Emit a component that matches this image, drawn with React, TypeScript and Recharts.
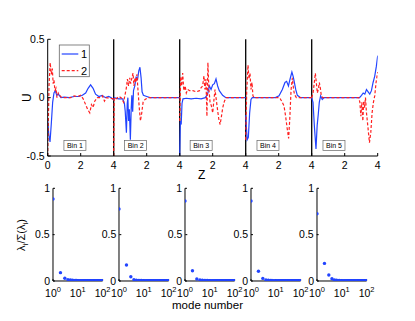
import {
  LineChart,
  Line,
  XAxis,
  YAxis,
  ReferenceLine,
  ReferenceDot,
  ScatterChart,
  Scatter,
} from 'recharts';

const FONT = '"Liberation Sans", Arial, Helvetica, sans-serif';
const BLUE = '#2244ff';
const RED = '#ff2020';

// first two POD modes per bin, [z, U]
const bin1Blue = [
  [0, -0.2], [0.07, -0.32], [0.14, -0.38], [0.22, -0.22], [0.3, -0.04], [0.38, 0.04], [0.46, 0.06],
  [0.55, 0.02], [0.65, 0.03], [0.8, 0.0], [1.0, 0.005], [1.3, 0.0], [1.6, 0.01], [1.9, 0.01],
  [2.1, 0.02], [2.3, 0.04], [2.45, 0.08], [2.6, 0.11], [2.75, 0.08], [2.9, 0.03], [3.1, 0.01],
  [3.3, 0.02], [3.5, 0.0], [3.7, 0.01], [3.85, 0.0], [4.0, -0.02],
];
const bin1Red = [
  [0, -0.5], [0.08, 0.1], [0.15, 0.3], [0.22, 0.2], [0.28, 0.25], [0.33, 0.12], [0.38, 0.15],
  [0.44, 0.06], [0.5, 0.08], [0.56, 0.0], [0.64, 0.04], [0.72, 0.02], [0.85, 0.0], [1.1, 0.0],
  [1.4, 0.0], [1.6, 0.015], [1.8, 0.01], [2.0, 0.02], [2.15, -0.01], [2.3, -0.06], [2.42, -0.1],
  [2.55, -0.13], [2.65, -0.06], [2.75, -0.085], [2.85, -0.03], [3.0, 0.0], [3.2, 0.0],
  [3.32, 0.015], [3.44, -0.03], [3.56, 0.0], [3.8, -0.005], [4.0, -0.01],
];
const bin2Blue = [
  [0, 0.0], [0.3, -0.01], [0.55, -0.01], [0.65, -0.05], [0.7, -0.12], [0.77, -0.3], [0.82, -0.05],
  [0.86, 0.0], [0.9, -0.2], [0.95, -0.1], [1.01, -0.36], [1.06, -0.1], [1.1, 0.02], [1.15, -0.12],
  [1.2, 0.06], [1.28, 0.1], [1.36, 0.18], [1.44, 0.15], [1.52, 0.23], [1.59, 0.26], [1.66, 0.17],
  [1.72, 0.05], [1.8, 0.02], [2.0, 0.01], [2.2, 0.0], [4.0, 0.0],
];
const bin2Red = [
  [0, -0.5], [0.03, 0.0], [0.15, -0.01], [0.3, 0.01], [0.45, 0.0], [0.6, -0.04], [0.68, 0.02],
  [0.77, 0.085], [0.83, 0.16], [0.9, 0.1], [0.97, 0.17], [1.03, 0.12], [1.09, 0.16], [1.17, 0.21],
  [1.23, 0.1], [1.29, 0.17], [1.35, 0.13], [1.41, 0.2], [1.47, 0.07], [1.54, -0.07], [1.62, -0.2],
  [1.7, -0.13], [1.78, -0.04], [1.9, -0.015], [2.08, 0.0], [4.0, 0.0],
];
const bin3Blue = [
  [0, -0.5], [0.04, -0.2], [0.09, -0.23], [0.14, -0.05], [0.2, -0.01], [0.4, -0.005], [0.7, -0.01],
  [1.0, -0.005], [1.3, -0.01], [1.55, 0.0], [1.69, 0.03], [1.8, 0.1], [1.9, 0.07], [2.0, 0.11],
  [2.1, 0.12], [2.2, 0.16], [2.3, 0.1], [2.4, 0.06], [2.6, 0.02], [2.8, 0.0], [4.0, 0.0],
];
const bin3Red = [
  [0, -0.2], [0.06, 0.18], [0.12, 0.1], [0.18, 0.21], [0.25, 0.06], [0.33, 0.1], [0.4, 0.04],
  [0.48, 0.07], [0.6, 0.06], [0.8, 0.06], [1.0, 0.05], [1.2, 0.06], [1.29, 0.085], [1.39, 0.1],
  [1.47, 0.185], [1.53, 0.07], [1.59, 0.16], [1.65, -0.16], [1.71, 0.3], [1.77, 0.07],
  [1.84, -0.04], [1.92, -0.07], [2.0, -0.13], [2.06, -0.04], [2.14, 0.07], [2.2, 0.0],
  [2.29, -0.1], [2.37, -0.185], [2.45, -0.23], [2.53, -0.16], [2.61, -0.085], [2.71, -0.03],
  [2.82, 0.0], [4.0, 0.0],
];
const bin4Blue = [
  [0, -0.15], [0.04, -0.25], [0.09, -0.36], [0.16, -0.34], [0.24, -0.13], [0.32, -0.015],
  [0.4, 0.0], [1.8, 0.0], [2.02, 0.015], [2.22, 0.07], [2.38, 0.13], [2.48, 0.14], [2.59, 0.1],
  [2.69, 0.16], [2.8, 0.22], [2.88, 0.18], [2.95, 0.13], [3.03, 0.07], [3.13, 0.02], [3.33, 0.0],
  [4.0, 0.0],
];
const bin4Red = [
  [0, -0.36], [0.06, 0.05], [0.14, 0.28], [0.2, 0.16], [0.26, 0.21], [0.32, 0.07], [0.38, 0.13],
  [0.44, 0.015], [0.52, 0.0], [2.05, 0.0], [2.18, -0.03], [2.32, -0.07], [2.42, -0.16],
  [2.52, -0.27], [2.6, -0.35], [2.67, -0.185], [2.75, 0.07], [2.83, 0.17], [2.89, 0.085],
  [2.95, 0.03], [3.07, 0.0], [4.0, 0.0],
];
const bin5Blue = [
  [0, 0.0], [0.08, -0.04], [0.16, -0.24], [0.26, -0.44], [0.33, -0.24], [0.4, -0.14], [0.46, -0.04],
  [0.54, 0.015], [0.64, -0.015], [0.75, 0.0], [2.9, 0.0], [3.02, 0.02], [3.12, 0.04], [3.22, 0.03],
  [3.32, 0.07], [3.42, 0.05], [3.52, 0.03], [3.62, 0.06], [3.72, 0.13], [3.82, 0.185],
  [3.92, 0.27], [4.0, 0.36],
];
const bin5Red = [
  [0, 0.0], [0.08, 0.04], [0.16, 0.13], [0.22, 0.21], [0.28, 0.13], [0.34, 0.04], [0.4, 0.07],
  [0.46, 0.13], [0.52, 0.085], [0.58, 0.02], [0.66, 0.0], [2.85, 0.0], [2.92, -0.04],
  [2.98, -0.16], [3.04, -0.04], [3.1, -0.2], [3.15, -0.03], [3.2, -0.085], [3.26, 0.0],
  [3.32, -0.13], [3.42, -0.27], [3.5, -0.385], [3.58, -0.3], [3.66, -0.13], [3.74, -0.04],
  [3.82, 0.015], [3.9, 0.13], [4.0, 0.22],
];

const binBlue = [bin1Blue, bin2Blue, bin3Blue, bin4Blue, bin5Blue];
const binRed = [bin1Red, bin2Red, bin3Red, bin4Red, bin5Red];
const binNames = ['Bin 1', 'Bin 2', 'Bin 3', 'Bin 4', 'Bin 5'];
const zTicks = [0, 2, 4, 6, 8, 10, 12, 14, 16, 18, 20];
const uTicks = [-0.5, 0, 0.5];

// normalised eigenvalues, first 12 modes per bin + shared tail (modes 13..100)
const eigBin1 = [0.885, 0.09, 0.03, 0.015, 0.01, 0.008, 0.006, 0.005, 0.005, 0.004, 0.004, 0.004];
const eigBin2 = [0.777, 0.173, 0.046, 0.015, 0.009, 0.007, 0.006, 0.005, 0.004, 0.004, 0.004, 0.003];
const eigBin3 = [0.863, 0.11, 0.022, 0.01, 0.008, 0.006, 0.005, 0.005, 0.004, 0.004, 0.003, 0.003];
const eigBin4 = [0.863, 0.105, 0.028, 0.012, 0.008, 0.006, 0.005, 0.004, 0.004, 0.004, 0.003, 0.003];
const eigBin5 = [0.726, 0.19, 0.065, 0.025, 0.01, 0.008, 0.006, 0.005, 0.004, 0.004, 0.003, 0.003];
const eigTail = [
  0.003, 0.003, 0.003, 0.003, 0.003, 0.003, 0.003, 0.002, 0.002, 0.002, 0.002,
  0.002, 0.002, 0.002, 0.002, 0.002, 0.002, 0.002, 0.002, 0.002, 0.002, 0.002,
  0.002, 0.002, 0.001, 0.001, 0.001, 0.001, 0.001, 0.001, 0.001, 0.001, 0.001,
  0.001, 0.001, 0.001, 0.001, 0.001, 0.001, 0.001, 0.001, 0.001, 0.001, 0.001,
  0.001, 0.001, 0.001, 0.001, 0.001, 0.001, 0.001, 0.001, 0.001, 0.001, 0.001,
  0.001, 0.001, 0.001, 0.001, 0.001, 0.001, 0.001, 0.001, 0.001, 0.001, 0.0005,
  0.0005, 0.0005, 0.0005, 0.0005, 0.0005, 0.0005, 0.0005, 0.0005, 0.0005, 0.0005, 0.0005,
  0.0005, 0.0005, 0.0005, 0.0005, 0.0005, 0.0002, 0.0002, 0.0002, 0.0001, 0.0001, 0.0001,
];
const eigBins = [eigBin1, eigBin2, eigBin3, eigBin4, eigBin5];
const modes = Array.from({ length: 100 }, (_, k) => k + 1); // mode numbers 1..100
const modeTicks = [1, 10, 100];
const fracTicks = [0, 0.5, 1];

// layout
const binLabelZ = [1.65, 1.33, 1.3, 1.35, 1.35];
const eigLeft = [52.7, 119.3, 185.3, 251, 316.7];
const eigTop = 188.3;
const eigBottom = 281;

const tickStyle = { fontSize: 10.5, fontFamily: FONT, fill: '#000' };
const black = { stroke: '#000' };

function BinTag({ cx, cy, text }: { cx: number; cy: number; text: string }) {
  return (
    <g>
      <rect x={cx - 11} y={cy - 5} width={22} height={10} fill="#fff" stroke="#666" strokeWidth={0.7} />
      <text x={cx} y={cy + 2.4} textAnchor="middle" fontSize={7} fontFamily={FONT} fill="#000">
        {text}
      </text>
    </g>
  );
}

function PowTick({ x, y, payload }: any) {
  return (
    <text x={x} y={y + 15.7} textAnchor="middle" fontSize={10.5} fontFamily={FONT} fill="#000">
      10
      <tspan dy={-5} fontSize={7.5}>
        {Math.round(Math.log10(payload.value))}
      </tspan>
    </text>
  );
}

// y tick label of the eigenvalue panels, placed through the chart's scales
function FracLabel({ cx, cy, value }: { cx: number; cy: number; value: number }) {
  return (
    <g>
      <line x1={cx} x2={cx + 2} y1={cy} y2={cy} stroke="#000" />
      <text x={cx - 3} y={cy + 3.7} textAnchor="end" fontSize={10.5} fontFamily={FONT} fill="#000">
        {String(value)}
      </text>
    </g>
  );
}

const dotShape = (p: any) => <circle cx={p.cx} cy={p.cy} r={1.7} fill={BLUE} />;

function EigPanel({ head }: { head: number[] }) {
  const data = modes.map((m, k) => ({
    mode: m,
    frac: k < head.length ? head[k] : eigTail[k - head.length],
  }));
  return (
    <ScatterChart width={113.6} height={135} margin={{ top: 8.3, right: 14, bottom: 0, left: 0 }}>
      <XAxis
        dataKey="mode"
        type="number"
        scale="log"
        domain={[1, 100]}
        ticks={modeTicks}
        interval={0}
        allowDataOverflow
        height={34}
        tick={<PowTick />}
        tickSize={-2}
        tickMargin={2}
        axisLine={black}
        tickLine={black}
      />
      <YAxis
        dataKey="frac"
        type="number"
        domain={[0, 1]}
        allowDataOverflow
        width={50}
        tick={false}
        axisLine={black}
      />
      <Scatter data={data} fill={BLUE} shape={dotShape} isAnimationActive={false} />
      {fracTicks
        .filter((v) => v !== 0.5)
        .map((v) => (
          <ReferenceDot
            key={'f' + v}
            x={1}
            y={v}
            r={0}
            ifOverflow="visible"
            shape={(p: any) => <FracLabel cx={p.cx} cy={p.cy} value={v} />}
          />
        ))}
    </ScatterChart>
  );
}

export default function App() {
  const midY = (eigTop + eigBottom) / 2;
  return (
    <div style={{ position: 'absolute', left: 0, top: 0, width: 415, height: 321, background: '#fff' }}>
      {eigBins.map((head, i) => (
        <div key={'e' + i} style={{ position: 'absolute', left: eigLeft[i] - 50, top: 180 }}>
          <EigPanel head={head} />
        </div>
      ))}

      <div style={{ position: 'absolute', left: 0, top: 0 }}>
        <LineChart width={415} height={190} margin={{ top: 39.3, right: 37.3, bottom: 14, left: 0 }}>
          <XAxis
            dataKey="x"
            type="number"
            domain={[0, 20]}
            ticks={zTicks}
            interval={0}
            allowDataOverflow
            tickFormatter={(v: number) => (v === 0 ? '0' : v % 4 === 0 ? '4' : '2')}
            tick={tickStyle}
            tickSize={-3}
            tickMargin={9}
            height={20}
            axisLine={black}
            tickLine={black}
            label={{ value: 'Z', position: 'center', dx: -11, dy: 9, fontSize: 12, fontFamily: FONT, fill: '#000' }}
          />
          <XAxis
            xAxisId="top"
            orientation="top"
            type="number"
            domain={[0, 20]}
            ticks={zTicks}
            interval={0}
            height={0}
            tick={false}
            tickSize={-3}
            axisLine={black}
            tickLine={black}
          />
          <YAxis
            type="number"
            domain={[-0.5, 0.5]}
            ticks={uTicks}
            interval={0}
            allowDataOverflow
            width={47.7}
            tick={tickStyle}
            tickSize={-3}
            tickMargin={6}
            axisLine={black}
            tickLine={black}
            label={{ value: 'U', angle: -90, position: 'center', dx: 2.5, fontSize: 12, fontFamily: FONT, fill: '#000' }}
          />
          <YAxis
            yAxisId="right"
            orientation="right"
            type="number"
            domain={[-0.5, 0.5]}
            ticks={uTicks}
            interval={0}
            width={0}
            tick={false}
            tickSize={-3}
            axisLine={black}
            tickLine={black}
          />
          {[4, 8, 12, 16].map((v) => (
            <ReferenceLine key={'d' + v} x={v} stroke="#000" strokeWidth={1.3} />
          ))}
          {binBlue.map((pts, i) => (
            <Line
              key={'b' + i}
              data={pts.map(([z, u]) => ({ x: 4 * i + z, u }))}
              dataKey="u"
              stroke={BLUE}
              strokeWidth={1.2}
              dot={false}
              isAnimationActive={false}
            />
          ))}
          {binRed.map((pts, i) => (
            <Line
              key={'r' + i}
              data={pts.map(([z, u]) => ({ x: 4 * i + z, u }))}
              dataKey="u"
              stroke={RED}
              strokeWidth={1.2}
              strokeDasharray="3 2"
              dot={false}
              isAnimationActive={false}
            />
          ))}
          {binNames.map((name, i) => (
            <ReferenceDot
              key={name}
              x={4 * i + binLabelZ[i]}
              y={-0.41}
              r={0}
              shape={(p: any) => <BinTag cx={p.cx} cy={p.cy} text={name} />}
            />
          ))}
        </LineChart>
      </div>

      <svg
        width={415}
        height={321}
        style={{ position: 'absolute', left: 0, top: 0, pointerEvents: 'none' }}
      >
        <g fontFamily={FONT} fill="#000">
          <rect x={59.3} y={45} width={30} height={31.7} fill="#fff" stroke="#666" strokeWidth={0.8} />
          <line x1={61.7} x2={78.3} y1={54} y2={54} stroke={BLUE} strokeWidth={1.2} />
          <text x={81} y={58} fontSize={11}>1</text>
          <line x1={61.7} x2={78.3} y1={70.7} y2={70.7} stroke={RED} strokeWidth={1.2} strokeDasharray="3 2" />
          <text x={81} y={74.7} fontSize={11}>2</text>
          {eigLeft.map((x) => (
            <FracLabel key={'m' + x} cx={x} cy={midY} value={0.5} />
          ))}
          <text transform="translate(25,235) rotate(-90)" textAnchor="middle" fontSize={11}>
            λ<tspan fontSize={8} dy={3}>i</tspan>
            <tspan dy={-3}>/Σ(λ</tspan>
            <tspan fontSize={8} dy={3}>i</tspan>
            <tspan dy={-3}>)</tspan>
          </text>
          <text x={207.5} y={308.5} textAnchor="middle" fontSize={11.5}>
            mode number
          </text>
        </g>
      </svg>
    </div>
  );
}
